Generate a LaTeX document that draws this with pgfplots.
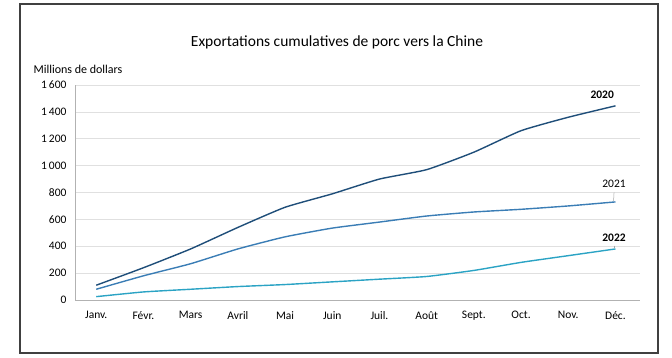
\documentclass[border=0pt]{standalone}
\usepackage{pgfplots}
\pgfplotsset{compat=1.18}
\usepackage{fontspec}
\setmainfont{Carlito}
\definecolor{c20}{HTML}{1F4E79}
\definecolor{c21}{HTML}{3A7DB5}
\definecolor{c22}{HTML}{2BA3C4}
\begin{document}
\begin{tikzpicture}[x=1pt,y=1pt]
\path[use as bounding box] (0,0) rectangle (672,357);
\draw[line width=1.2pt, black!75] (20,4) rectangle (658,353);
\node[font=\fontsize{15.5}{18}\selectfont] at (337,315) {Exportations cumulatives de porc vers la Chine};
\node[anchor=west,font=\fontsize{12}{14}\selectfont] at (30,288) {Millions de dollars};
\begin{axis}[
  at={(75pt,57pt)}, anchor=south west,
  scale only axis, width=565pt, height=215pt,
  xmin=-0.45, xmax=11.52, ymin=0, ymax=1600,
  xtick={0,...,11},
  xticklabels={Janv.,Févr.,Mars,Avril,Mai,Juin,Juil.,Août,Sept.,Oct.,Nov.,Déc.},
  ytick={0,200,...,1600},
  yticklabels={0,200,400,600,800,1\,000,1\,200,1\,400,1\,600},
  /pgf/number format/assume math mode=true,
  tick label style={font=\fontsize{11.5}{13}\selectfont},
  xticklabel style={yshift=-8pt},
  yticklabel style={xshift=-5pt},
  major tick length=0pt,
  ymajorgrids, grid style={color=black!12, line width=0.6pt},
  axis line style={color=black!30, line width=0.8pt},
  axis x line*=bottom, axis y line*=left,
  clip=false,
]
\addplot[c20, line width=1.4pt, smooth, tension=0.3] coordinates {
(0,110) (1,240) (2,380) (3,540) (4,690) (5,790) (6,900) (7,970) (8,1100) (9,1260) (10,1360) (11,1445)};
\addplot[c21, line width=1.4pt, smooth, tension=0.3] coordinates {
(0,80) (1,180) (2,270) (3,380) (4,470) (5,535) (6,580) (7,625) (8,655) (9,675) (10,700) (11,730)};
\addplot[c22, line width=1.4pt, smooth, tension=0.3] coordinates {
(0,25) (1,60) (2,80) (3,100) (4,115) (5,135) (6,155) (7,175) (8,220) (9,280) (10,330) (11,380)};
\node[font=\bfseries\fontsize{11.5}{13}\selectfont] at (axis cs:10.72,1530) {2020};
\node[font=\fontsize{11.5}{13}\selectfont] at (axis cs:10.97,862) {2021};
\draw[black!35, line width=0.5pt] (axis cs:10.97,800) -- (axis cs:10.96,735);
\node[font=\bfseries\fontsize{11.5}{13}\selectfont] at (axis cs:10.97,462) {2022};
\draw[black!35, line width=0.5pt] (axis cs:10.97,405) -- (axis cs:10.97,385);
\end{axis}
\end{tikzpicture}
\end{document}
